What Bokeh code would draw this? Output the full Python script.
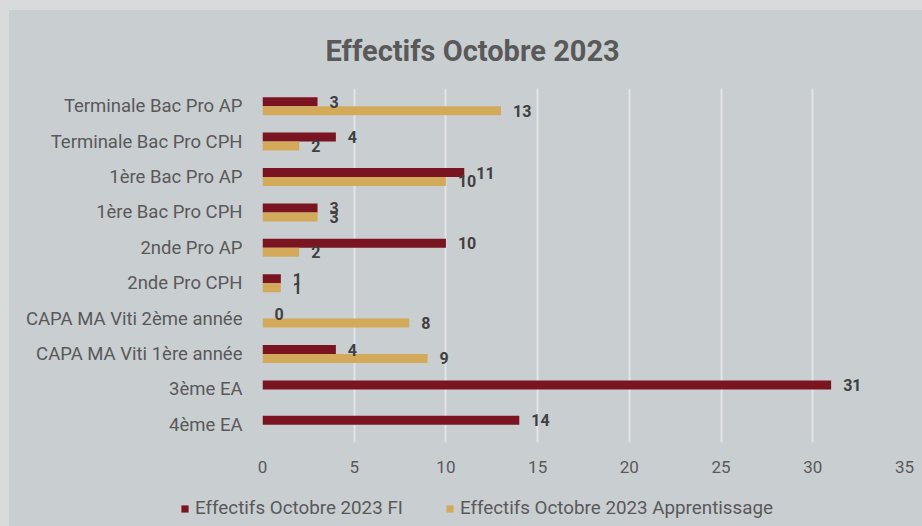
from bokeh.plotting import figure
from bokeh.layouts import column
from bokeh.models import (ColumnDataSource, FactorRange, LabelSet, Legend,
                          LegendItem, FixedTicker, Range1d, Title)
from bokeh.core.properties import value
from bokeh.transform import dodge
from bokeh.embed import file_html
from bokeh.resources import INLINE

# ---- data (top to bottom as displayed) ----
categories = [
    "Terminale Bac Pro AP",
    "Terminale Bac Pro CPH",
    "1ère Bac Pro AP",
    "1ère Bac Pro CPH",
    "2nde Pro AP",
    "2nde Pro CPH",
    "CAPA MA Viti 2ème année",
    "CAPA MA Viti 1ère année",
    "3ème EA",
    "4ème EA",
]
fi_values = [3, 4, 11, 3, 10, 1, 0, 4, 31, 14]
app_values = [13, 2, 10, 3, 2, 1, 8, 9, None, None]
x_ticks = [0, 5, 10, 15, 20, 25, 30, 35]
series_names = ["Effectifs Octobre 2023 FI", "Effectifs Octobre 2023 Apprentissage"]
title_text = "Effectifs Octobre 2023"

RED = "#7a1420"
GOLD = "#d2aa5a"
BG = "#c9ced1"
OUTER = "#d8dadb"
TXT = "#595959"
LBL = "#404040"
font = "Roboto"

cats_bt = categories[::-1]
fi_bt = fi_values[::-1]
app_bt = app_values[::-1]

src_fi = ColumnDataSource(dict(cat=cats_bt, v=fi_bt, t=[str(v) for v in fi_bt]))
app_c = [c for c, v in zip(cats_bt, app_bt) if v is not None]
app_v = [v for v in app_bt if v is not None]
src_app = ColumnDataSource(dict(cat=app_c, v=app_v, t=[str(v) for v in app_v]))

p = figure(width=913, height=470, output_backend="svg", toolbar_location=None,
           y_range=FactorRange(factors=cats_bt), x_range=Range1d(0, 35),
           min_border_left=253, min_border_right=18, min_border_top=78,
           min_border_bottom=38)
p.frame_align = False
p.background_fill_color = BG
p.border_fill_color = BG
p.outline_line_color = None

p.title = Title(text=title_text, align="left", offset=63, standoff=41,
                text_font=font, text_font_size="29px", text_font_style="bold",
                text_color=TXT)

bw = 0.254
r1 = p.hbar(y=dodge("cat", bw / 2, range=p.y_range), left=0, right="v", height=bw,
            fill_color=RED, line_color=None, source=src_fi)
r2 = p.hbar(y=dodge("cat", -bw / 2, range=p.y_range), left=0, right="v", height=bw,
            fill_color=GOLD, line_color=None, source=src_app)

for src, off in ((src_fi, bw / 2), (src_app, -bw / 2)):
    ls = LabelSet(x="v", y=dodge("cat", off, range=p.y_range), text="t", source=src,
                  x_offset=12, y_offset=0, text_align="left", text_baseline="middle",
                  text_font=value(font), text_font_size=value("16px"),
                  text_font_style="bold", text_color=LBL)
    p.add_layout(ls)

p.xaxis.ticker = FixedTicker(ticks=x_ticks)
p.xgrid.ticker = FixedTicker(ticks=x_ticks)
p.xgrid.grid_line_color = "#e2e4e5"
p.xgrid.grid_line_width = 2
p.ygrid.grid_line_color = None

for ax in (p.xaxis, p.yaxis):
    ax.axis_line_color = None
    ax.major_tick_line_color = None
    ax.minor_tick_line_color = None
    ax.major_label_text_color = TXT
    ax.major_label_text_font = font
p.xaxis.major_label_text_font_size = "17px"
p.yaxis.major_label_text_font_size = "18.5px"
p.xaxis.major_label_standoff = 12
p.yaxis.major_label_standoff = 14

# ---- legend strip (proxy glyphs sit outside the visible range) ----
q = figure(width=913, height=46, output_backend="svg", toolbar_location=None,
           x_range=Range1d(0, 1), y_range=Range1d(0, 1),
           x_axis_location=None, y_axis_location=None, min_border=0)
q.frame_align = False
q.background_fill_color = BG
q.border_fill_color = BG
q.outline_line_color = None
q.grid.grid_line_color = None
proxy = ColumnDataSource(dict(y=[-5], r=[1]))
g1 = q.hbar(y="y", right="r", left=0, height=0.1, fill_color=RED, line_color=None,
            source=proxy)
g2 = q.hbar(y="y", right="r", left=0, height=0.1, fill_color=GOLD, line_color=None,
            source=proxy)
legend = Legend(items=[LegendItem(label=series_names[0], renderers=[g1]),
                       LegendItem(label=series_names[1], renderers=[g2])],
                orientation="horizontal", location=(171, 7),
                glyph_width=9, glyph_height=9, label_standoff=6, spacing=42,
                padding=0, margin=0, border_line_color=None,
                background_fill_alpha=0, label_text_font=font,
                label_text_font_size="18.8px", label_text_color=TXT)
q.add_layout(legend, "center")

inner = column(p, q, spacing=0, margin=(10, 0, 0, 9),
               styles={"background-color": BG})
outer = column(inner, spacing=0, margin=0,
               styles={"background-color": OUTER})

open("out.html", "w").write(file_html(outer, INLINE))
